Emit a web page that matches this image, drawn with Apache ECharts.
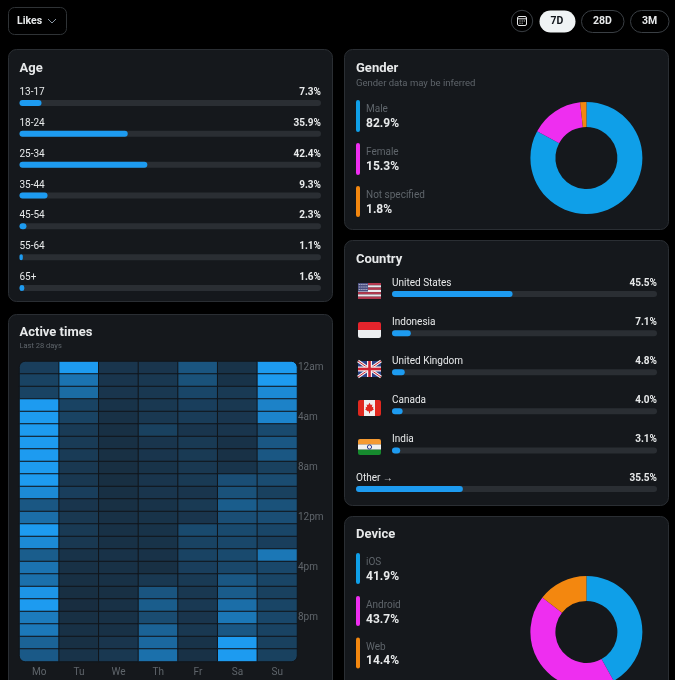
<!DOCTYPE html>
<html><head><meta charset="utf-8">
<style>html,body{margin:0;padding:0;background:#000;overflow:hidden}#c{width:675px;height:680px}</style>
<script src="https://cdn.jsdelivr.net/npm/echarts@6/dist/echarts.min.js"></script>
</head><body><div id="c"></div>
<script>
const ageLabels=['13-17','18-24','25-34','35-44','45-54','55-64','65+'];
const ageValues=[7.3,35.9,42.4,9.3,2.3,1.1,1.6];
const countryLabels=['United States','Indonesia','United Kingdom','Canada','India'];
const countryValues=[45.5,7.1,4.8,4.0,3.1];
const otherLabels=['Other →'];
const otherValues=[35.5];
const genderLabels=['Male','Female','Not specified'];
const genderValues=[82.9,15.3,1.8];
const deviceLabels=['iOS','Android','Web'];
const deviceValues=[41.9,43.7,14.4];
const days=['Mo','Tu','We','Th','Fr','Sa','Su'];
const hours=['12am','1am','2am','3am','4am','5am','6am','7am','8am','9am','10am','11am','12pm','1pm','2pm','3pm','4pm','5pm','6pm','7pm','8pm','9pm','10pm','11pm'];
const activeMo=[18,22,22,100,100,100,100,100,100,100,85,40,60,100,85,45,65,62,95,100,72,70,50,42];
const activeTu=[100,65,58,22,22,15,15,15,12,12,18,10,12,14,12,8,6,5,4,3,5,6,5,8];
const activeWe=[10,10,10,8,6,5,5,5,4,4,5,5,6,6,6,7,6,6,5,6,6,6,10,12];
const activeTh=[10,12,12,12,12,20,10,10,8,10,10,8,8,8,8,7,5,12,38,45,30,50,55,62];
const activeFr=[38,35,25,18,16,10,14,14,12,14,10,14,10,28,22,22,18,14,12,13,10,12,8,6];
const activeSa=[8,8,14,12,11,10,7,6,9,32,35,45,32,28,26,28,26,40,44,60,68,40,100,100];
const activeSu=[100,100,85,78,80,28,40,40,20,30,20,35,32,25,18,68,26,24,20,24,26,22,20,20];
const activeAll=[activeMo,activeTu,activeWe,activeTh,activeFr,activeSa,activeSu];

const FONT='Roboto, "Noto Sans", sans-serif';
const CARD='#15181c',EDGE='#2a2e33',TRACK='#2a2e33',BLUE='#1d9bf0',PIE=['#0f9fe8','#ee2ef0','#f3870f'];
const FG='#e7e9ea',MUTED='#5f656b';

function rr(x,y,w,h,r,fill,stroke,z){return {type:'rect',silent:true,z:z||0,shape:{x,y,width:w,height:h,r},style:{fill:fill||'transparent',stroke:stroke||null,lineWidth:1}};}
function tx(x,y,t,size,fill,weight,align){return {type:'text',silent:true,z:5,x,y:y+1,style:{text:t,font:`${weight||400} ${size}px ${FONT}`,fill,textAlign:align||'left',textVerticalAlign:'middle'}};}
function ln(pts,stroke,w){return {type:'polyline',silent:true,z:6,shape:{points:pts},style:{stroke,lineWidth:w,fill:null}};}
function poly(pts,fill){return {type:'polygon',silent:true,z:6,shape:{points:pts},style:{fill}};}

function flag(kind,x,y){
  const w=23,h=16,c=[];
  if(kind==='us'){
    for(let i=0;i<7;i++){c.push(rr(0,i*2.28,w,2.28,0,i%2?'#e8e8ee':'#b5384f'));}
    c.push(rr(0,0,10,8.5,0,'#4a4f80'));
    for(let i=0;i<3;i++)for(let j=0;j<5;j++)c.push(rr(.8+j*1.9,1+i*2.5,.9,.9,0,'#d5d6e6'));
  }else if(kind==='id'){
    c.push(rr(0,0,w,8,[2,2,0,0],'#e5242c'),rr(0,8,w,8,[0,0,2,2],'#eceef0'));
  }else if(kind==='uk'){
    c.push(rr(0,0,w,h,2,'#2a3f86'));
    c.push(ln([[0,0],[w,h]],'#f2f2f2',3),ln([[w,0],[0,h]],'#f2f2f2',3));
    c.push(ln([[0,0],[w,h]],'#cf2232',1),ln([[w,0],[0,h]],'#cf2232',1));
    c.push(rr(9,0,5,h,0,'#f2f2f2'),rr(0,5.5,w,5,0,'#f2f2f2'));
    c.push(rr(10.2,0,2.6,h,0,'#cf2232'),rr(0,6.7,w,2.6,0,'#cf2232'));
  }else if(kind==='ca'){
    c.push(rr(0,0,w,h,2,'#e0281f'),rr(6,0,11,h,0,'#f0f0f0'));
    c.push(poly([[11.5,2.8],[12.8,5],[14.4,4.5],[13.8,7.2],[15.4,6.8],[15,8.6],[16,9.2],[13,11.4],[12,11.2],[12,13.3],[11,13.3],[11,11.2],[10,11.4],[7,9.2],[8,8.6],[7.6,6.8],[9.2,7.2],[8.6,4.5],[10.2,5]],'#e0281f'));
  }else{
    c.push(rr(0,0,w,5.4,[2,2,0,0],'#f59a32'),rr(0,5.4,w,5.3,0,'#f1f1f1'),rr(0,10.7,w,5.3,[0,0,2,2],'#168a2e'));
    c.push({type:'circle',silent:true,z:6,shape:{cx:11.5,cy:8,r:2.1},style:{fill:'#f1f1f1',stroke:'#2a3b8f',lineWidth:1}});
  }
  c.forEach(o=>{o.z=6;});
  return {type:'group',x,y,silent:true,children:c};
}

const g=[
  rr(8.5,7.5,58,27,6,null,'#2f3336'),
  tx(17,20,'Likes',10.5,FG,700),
  ln([[48,19],[52,23],[56,19]],'#8b98a5',1),
  {type:'circle',silent:true,shape:{cx:522,cy:21,r:10.7},style:{fill:null,stroke:'#3a3f44',lineWidth:1}},
  rr(517.5,16.5,9,9,1.5,null,'#e7e9ea'),
  ln([[518,18.8],[526.5,18.8]],'#e7e9ea',1),
  ln([[519.5,21],[520.5,21]],'#e7e9ea',1),ln([[521.7,21],[522.7,21]],'#e7e9ea',1),ln([[523.8,21],[524.8,21]],'#e7e9ea',1),
  ln([[519.5,23.2],[520.5,23.2]],'#e7e9ea',1),ln([[521.7,23.2],[522.7,23.2]],'#e7e9ea',1),
  rr(539.5,10.5,36,22,11,'#eff3f4'),
  tx(557,20,'7D',10.5,'#0f1419',700,'center'),
  rr(581.5,10.5,42.5,22,11,null,'#3a3f44'),
  tx(602.5,20,'28D',10.5,FG,700,'center'),
  rr(630.5,10.5,38.5,22,11,null,'#3a3f44'),
  tx(649.5,20,'3M',10.5,FG,700,'center'),
  rr(8.5,49.5,324,252,8,CARD,EDGE),
  rr(344.5,49.5,324,180,8,CARD,EDGE),
  rr(344.5,240.5,324,265,8,CARD,EDGE),
  rr(344.5,516.5,324,180,8,CARD,EDGE),
  rr(8.5,314.5,324,380,8,CARD,EDGE),
  tx(19.5,67.5,'Age',13,FG,700),
  tx(356,67.5,'Gender',13,FG,700),
  tx(356,82.5,'Gender data may be inferred',9.5,MUTED),
  tx(356,258.5,'Country',13,FG,700),
  tx(356,533.5,'Device',13,FG,700),
  tx(19.5,331.5,'Active times',13,FG,700),
  tx(19.5,345.5,'Last 28 days',7.5,MUTED),
];
function legend(labels,values,tops,heights){
  labels.forEach((l,i)=>{
    g.push(rr(356,tops[i],4,heights[i],2,PIE[i]));
    g.push(tx(366,tops[i]+8.5,l,10,MUTED));
    g.push(tx(366,tops[i]+22.5,values[i].toFixed(1)+'%',12,FG,700));
  });
}
legend(genderLabels,genderValues,[100,143,186],[32,32,31]);
legend(deviceLabels,deviceValues,[553,596,637.5],[31,30,31]);
['us','id','uk','ca','in'].forEach((k,i)=>g.push(flag(k,358,[283,322,361,400,439][i])));

function barPair(idx,labels,values){
  const pct=v=>v.toFixed(1)+'%';
  return [{
    type:'bar',xAxisIndex:idx,yAxisIndex:idx,barWidth:6,barGap:'-100%',silent:true,z:2,
    data:values.map(()=>100),
    itemStyle:{color:TRACK,borderRadius:3},
    label:{show:true,position:['100%',-7.5],align:'right',verticalAlign:'middle',color:FG,fontFamily:FONT,fontSize:10,fontWeight:700,
      formatter:p=>pct(values[p.dataIndex])},
    animation:false
  },{
    type:'bar',xAxisIndex:idx,yAxisIndex:idx,barWidth:6,barGap:'-100%',silent:true,z:3,
    data:values,
    itemStyle:{color:BLUE,borderRadius:3},
    label:{show:true,position:[0,-7.5],align:'left',verticalAlign:'middle',color:FG,fontFamily:FONT,fontSize:10,
      formatter:p=>labels[p.dataIndex]},
    animation:false
  }];
}
const grids=[
  {left:19.5,width:301.5,top:87.5,height:216},
  {left:392,width:265,top:274.5,height:195.5},
  {left:356,width:301,top:479,height:20},
  {left:19.5,width:277.5,top:361.5,height:300}
];
const xAxes=[0,1,2].map(i=>({gridIndex:i,type:'value',min:0,max:100,show:false}));
const yAxes=[ageLabels,countryLabels,otherLabels].map((d,i)=>({gridIndex:i,type:'category',inverse:true,data:d,show:false}));
xAxes.push({gridIndex:3,type:'category',data:days,position:'bottom',axisLine:{show:false},axisTick:{show:false},splitLine:{show:false},splitArea:{show:false},
  axisLabel:{color:'#5f656b',fontFamily:FONT,fontSize:10,margin:6}});
yAxes.push({gridIndex:3,type:'category',data:hours,inverse:true,position:'right',axisLine:{show:false},axisTick:{show:false},splitLine:{show:false},splitArea:{show:false},
  axisLabel:{color:'#5f656b',fontFamily:FONT,fontSize:10,margin:1,interval:3,padding:[2,0,0,0]}});

const heat=[];
activeAll.forEach((col,x)=>col.forEach((v,y)=>{
  const item={value:[x,y,v]};
  let r=null;
  if(x===0&&y===0)r=[6,0,0,0];
  if(x===6&&y===0)r=[0,6,0,0];
  if(x===0&&y===23)r=[0,0,0,6];
  if(x===6&&y===23)r=[0,0,6,0];
  if(r)item.itemStyle={borderRadius:r};
  heat.push(item);
}));
function donut(names,values,cy){
  return {type:'pie',radius:[31,56],center:[586.4,cy],startAngle:90,clockwise:true,silent:true,animation:false,
    label:{show:false},labelLine:{show:false},
    data:names.map((n,i)=>({name:n,value:values[i],itemStyle:{color:PIE[i]}}))};
}
const chart=echarts.init(document.getElementById('c'),null,{renderer:'canvas'});
chart.setOption({
  backgroundColor:'#000',animation:false,
  graphic:{elements:g},
  grid:grids,xAxis:xAxes,yAxis:yAxes,
  visualMap:{show:false,seriesIndex:6,dimension:2,min:0,max:100,inRange:{color:['#182a3b',BLUE]}},
  series:[
    ...barPair(0,ageLabels,ageValues),
    ...barPair(1,countryLabels,countryValues),
    ...barPair(2,otherLabels,otherValues),
    {type:'heatmap',xAxisIndex:3,yAxisIndex:3,silent:true,z:3,animation:false,data:heat,itemStyle:{borderColor:'#11151a',borderWidth:1}},
    donut(genderLabels,genderValues,158),
    donut(deviceLabels,deviceValues,632)
  ]
});
</script></body></html>
